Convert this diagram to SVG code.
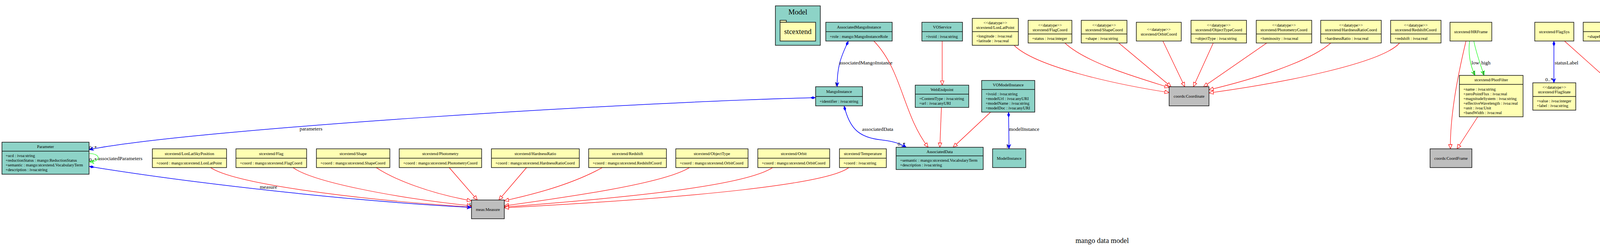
<svg xmlns="http://www.w3.org/2000/svg" width="5645" height="640" viewBox="0 0 5645 640">
<style>
text{font-family:"Liberation Serif","Times New Roman",serif;fill:#000}
.h{font-size:10.7px;text-anchor:middle}
.a{font-size:10.7px;text-anchor:start}
.l{font-size:13.3px}
.big{font-size:18.5px;text-anchor:middle}
.t{fill:#8dd3c7;stroke:#111;stroke-width:1.5}
.y{fill:#ffffb3;stroke:#111;stroke-width:1.5}
.g{fill:#bebebe;stroke:#111;stroke-width:1.5}
.d{stroke:#111;stroke-width:1.5}
.gen{fill:none;stroke:#f00;stroke-width:1.2;marker-end:url(#tri)}
.comp{fill:none;stroke:#00f;stroke-width:1.5;marker-start:url(#dia);marker-end:url(#vee)}
.grn{fill:none;stroke:#0f0;stroke-width:1.2;marker-end:url(#veeg)}
</style>
<defs>
<marker id="tri" markerWidth="14" markerHeight="12" refX="12" refY="6" orient="auto" markerUnits="userSpaceOnUse"><path d="M1,1.5 L12,6 L1,10.5 z" fill="#fff" stroke="#f00" stroke-width="1.2"/></marker>
<marker id="vee" markerWidth="14" markerHeight="12" refX="12" refY="6" orient="auto" markerUnits="userSpaceOnUse"><path d="M1,1.5 L12,6 L1,10.5 L4.5,6 z" fill="#00f" stroke="#00f" stroke-width="1"/></marker>
<marker id="veeg" markerWidth="14" markerHeight="12" refX="12" refY="6" orient="auto" markerUnits="userSpaceOnUse"><path d="M1,1.5 L12,6 L1,10.5 L4.5,6 z" fill="none" stroke="#0f0" stroke-width="1.2"/></marker>
<marker id="dia" markerWidth="16" markerHeight="10" refX="1" refY="5" orient="auto" markerUnits="userSpaceOnUse"><path d="M1,5 L8,1.5 L15,5 L8,8.5 z" fill="#00f"/></marker>
</defs>
<rect width="5645" height="640" fill="#fff"/>

<g id="connectors">
<!-- to meas:Measure -->
<path class="gen" d="M539,429 C600,470 900,510 1207,530"/>
<path class="gen" d="M750,429 C800,465 1000,505 1207,527"/>
<path class="gen" d="M963,429 C1010,460 1100,495 1207,514"/>
<path class="gen" d="M1150,429 L1222,512"/>
<path class="gen" d="M1348,429 L1277,512"/>
<path class="gen" d="M1542,429 C1450,480 1330,505 1291,514"/>
<path class="gen" d="M1765,429 C1700,470 1450,505 1291,527"/>
<path class="gen" d="M1978,429 C1900,480 1550,510 1291,530"/>
<path class="gen" d="M2173,429 C2120,470 1800,505 1291,532"/>
<!-- to coords:Coordinate -->
<path class="gen" d="M2596,116 C2650,170 2850,215 2993,237"/>
<path class="gen" d="M2726,110 C2780,160 2900,195 2993,224"/>
<path class="gen" d="M2864,110 L2998,222"/>
<path class="gen" d="M2977,105 L3033,222"/>
<path class="gen" d="M3106,110 L3055,222"/>
<path class="gen" d="M3243,110 L3081,222"/>
<path class="gen" d="M3407,110 C3350,160 3200,205 3095,230"/>
<path class="gen" d="M3583,110 C3540,160 3300,210 3095,238"/>
<!-- to coords:CoordFrame -->
<path class="gen" d="M3753,105 C3730,200 3712,300 3713,381"/>
<path class="gen" d="M3783,299 L3730,381"/>
<!-- to coords:CoordSys -->
<path class="gen" d="M4005,105 L4136,222"/>
<path class="gen" d="M4161,105 L4161,222"/>
<path class="gen" d="M4330,105 L4190,222"/>
<!-- to coords:PhysicalCoordSys -->
<path class="gen" d="M4541,105 L4709,222"/>
<path class="gen" d="M4670,105 L4729,222"/>
<path class="gen" d="M4812,105 L4753,222"/>
<path class="gen" d="M4962,105 L4780,222"/>
<!-- to AssociatedData / WebEndpoint -->
<path class="gen" d="M2237,105 C2310,180 2310,290 2376,377"/>
<path class="gen" d="M2412,105 L2412,218"/>
<path class="gen" d="M2410,275 L2406,377"/>
<path class="gen" d="M2536,287 L2440,377"/>
<!-- compositions -->
<path class="comp" d="M2088,250 C1600,262 500,330 228,383"/>
<path class="comp" d="M228,426 C500,470 900,515 1207,531"/>
<path class="comp" d="M2172,105 C2150,150 2143,175 2143,222"/>
<path class="comp" d="M2161,271 C2175,330 2200,352 2255,358 C2290,362 2305,368 2320,377"/>
<path class="comp" d="M2582,287 L2583,381"/>
<path class="comp" d="M3978,105 L3978,212"/>
<!-- green -->
<path class="grn" d="M228,393 C258,393 260,414 229,414"/>
<path class="grn" d="M3762,105 C3758,140 3765,170 3776,193"/>
<path class="grn" d="M3773,105 C3780,140 3792,170 3799,193"/>
<!-- labels -->
<text class="l" x="767" y="334">parameters</text>
<text class="l" x="228" y="382">0..*</text>
<text class="l" x="251" y="410">associatedParameters</text>
<text class="l" x="228" y="413">0..*</text>
<text class="l" x="665" y="483">measure</text>
<text class="l" x="1200" y="527">1</text>
<text class="l" x="2148" y="165">associatedMangoInstance</text>
<text class="l" x="2137" y="219">1</text>
<text class="l" x="2207" y="335">associatedData</text>
<text class="l" x="2298" y="373">0..*</text>
<text class="l" x="2583" y="335">modelInstance</text>
<text class="l" x="2575" y="378">1</text>
<text class="l" x="3767" y="165">low</text>
<text class="l" x="3792" y="165">high</text>
<text class="l" x="3770" y="190">1</text>
<text class="l" x="3794" y="190">1</text>
<text class="l" x="3980" y="165">statusLabel</text>
<text class="l" x="3956" y="208">0..*</text>
</g>

<g id="pkg-Model">
<rect class="t" x="1985" y="15" width="115" height="101"/>
<text class="big" x="2042.5" y="36.5">Model</text>
<rect class="y" x="1997" y="52" width="16" height="5"/>
<rect class="y" x="1997" y="57" width="91" height="48"/>
<text class="big" x="2042.5" y="87">stcextend</text>
</g>

<g id="Parameter">
<rect class="t" x="5" y="364" width="223" height="82"/>
<line class="d" x1="5" y1="387" x2="228" y2="387"/>
<text class="h" x="116.5" y="379">Parameter</text>
<text class="a" x="14" y="401.5">+ucd : ivoa:string</text>
<text class="a" x="14" y="413.5">+reductionStatus : mango:ReductionStatus</text>
<text class="a" x="14" y="425.5">+semantic : mango:stcextend.VocabularyTerm</text>
<text class="a" x="14" y="437.5">+description : ivoa:string</text>
</g>

<g id="LonLatSkyPosition">
<rect class="y" x="390" y="381" width="190" height="48"/>
<line class="d" x1="390" y1="405" x2="580" y2="405"/>
<text class="h" x="485" y="397">stcextend/LonLatSkyPosition</text>
<text class="a" x="400" y="421">+coord : mango:stcextend.LonLatPoint</text>
</g>
<g id="Flag">
<rect class="y" x="604" y="381" width="181" height="48"/>
<line class="d" x1="604" y1="405" x2="785" y2="405"/>
<text class="h" x="694.5" y="397">stcextend/Flag</text>
<text class="a" x="614" y="421">+coord : mango:stcextend.FlagCoord</text>
</g>
<g id="Shape">
<rect class="y" x="810" y="381" width="188" height="48"/>
<line class="d" x1="810" y1="405" x2="998" y2="405"/>
<text class="h" x="904" y="397">stcextend/Shape</text>
<text class="a" x="820" y="421">+coord : mango:stcextend.ShapeCoord</text>
</g>
<g id="Photometry">
<rect class="y" x="1022" y="381" width="211" height="48"/>
<line class="d" x1="1022" y1="405" x2="1233" y2="405"/>
<text class="h" x="1127.5" y="397">stcextend/Photometry</text>
<text class="a" x="1032" y="421">+coord : mango:stcextend.PhotometryCoord</text>
</g>
<g id="HardnessRatio">
<rect class="y" x="1258" y="381" width="225" height="48"/>
<line class="d" x1="1258" y1="405" x2="1483" y2="405"/>
<text class="h" x="1370.5" y="397">stcextend/HardnessRatio</text>
<text class="a" x="1268" y="421">+coord : mango:stcextend.HardnessRatioCoord</text>
</g>
<g id="Redshift">
<rect class="y" x="1507" y="381" width="199" height="48"/>
<line class="d" x1="1507" y1="405" x2="1706" y2="405"/>
<text class="h" x="1606.5" y="397">stcextend/Redshift</text>
<text class="a" x="1517" y="421">+coord : mango:stcextend.RedshiftCoord</text>
</g>
<g id="ObjectType">
<rect class="y" x="1730" y="381" width="185" height="48"/>
<line class="d" x1="1730" y1="405" x2="1915" y2="405"/>
<text class="h" x="1822.5" y="397">stcextend/ObjectType</text>
<text class="a" x="1740" y="421">+coord : mango:stcextend.OrbitCoord</text>
</g>
<g id="Orbit">
<rect class="y" x="1940" y="381" width="184" height="48"/>
<line class="d" x1="1940" y1="405" x2="2124" y2="405"/>
<text class="h" x="2032" y="397">stcextend/Orbit</text>
<text class="a" x="1950" y="421">+coord : mango:stcextend.OrbitCoord</text>
</g>
<g id="Temperature">
<rect class="y" x="2149" y="381" width="120" height="48"/>
<line class="d" x1="2149" y1="405" x2="2269" y2="405"/>
<text class="h" x="2209" y="397">stcextend/Temperature</text>
<text class="a" x="2159" y="421">+coord : ivoa:string</text>
</g>

<g id="Measure">
<rect class="g" x="1207" y="512" width="84" height="48"/>
<text class="h" x="1249" y="539.5">meas:Measure</text>
</g>

<g id="AssociatedMangoInstance">
<rect class="t" x="2114" y="57" width="170" height="48"/>
<line class="d" x1="2114" y1="81" x2="2284" y2="81"/>
<text class="h" x="2199" y="72.7">AssociatedMangoInstance</text>
<text class="a" x="2124" y="96.7">+role : mango:MangoInstanceRole</text>
</g>
<g id="VOService">
<rect class="t" x="2360" y="57" width="104" height="48"/>
<line class="d" x1="2360" y1="81" x2="2464" y2="81"/>
<text class="h" x="2412" y="72.7">VOService</text>
<text class="a" x="2370" y="96.7">+ivoid : ivoa:string</text>
</g>
<g id="MangoInstance">
<rect class="t" x="2088" y="222" width="120" height="49"/>
<line class="d" x1="2088" y1="247" x2="2208" y2="247"/>
<text class="h" x="2148" y="238">MangoInstance</text>
<text class="a" x="2098" y="262.5">+identifier : ivoa:string</text>
</g>
<g id="WebEndpoint">
<rect class="t" x="2343" y="218" width="137" height="57"/>
<line class="d" x1="2343" y1="241" x2="2480" y2="241"/>
<text class="h" x="2411.5" y="233">WebEndpoint</text>
<text class="a" x="2353" y="255.5">+ContentType : ivoa:string</text>
<text class="a" x="2353" y="267.5">+url : ivoa:anyURI</text>
</g>
<g id="VOModelInstance">
<rect class="t" x="2513" y="206" width="136" height="81"/>
<line class="d" x1="2513" y1="229" x2="2649" y2="229"/>
<text class="h" x="2581" y="221">VOModelInstance</text>
<text class="a" x="2523" y="243.5">+ivoid : ivoa:string</text>
<text class="a" x="2523" y="255.5">+modelUrl : ivoa:anyURI</text>
<text class="a" x="2523" y="267.5">+modelName : ivoa:string</text>
<text class="a" x="2523" y="279.5">+modelDoc : ivoa:anyURI</text>
</g>
<g id="AssociatedData">
<rect class="t" x="2294" y="377" width="223" height="57"/>
<line class="d" x1="2294" y1="399" x2="2517" y2="399"/>
<text class="h" x="2405.5" y="392">AssociatedData</text>
<text class="a" x="2304" y="413.5">+semantic : mango:stcextend.VocabularyTerm</text>
<text class="a" x="2304" y="425.5">+description : ivoa:string</text>
</g>
<g id="ModelInstance">
<rect class="t" x="2541" y="381" width="85" height="48"/>
<text class="h" x="2583.5" y="409">ModelInstance</text>
</g>

<g id="LonLatPoint">
<rect class="y" x="2489" y="47" width="118" height="69"/>
<line class="d" x1="2489" y1="81" x2="2607" y2="81"/>
<text class="h" x="2548" y="61.5">&lt;&lt;datatype&gt;&gt;</text>
<text class="h" x="2548" y="73.5">stcextend/LonLatPoint</text>
<text class="a" x="2499" y="95.5">+longitude : ivoa:real</text>
<text class="a" x="2499" y="107.5">+latitude : ivoa:real</text>
</g>
<g id="FlagCoord">
<rect class="y" x="2632" y="52" width="112" height="58"/>
<line class="d" x1="2632" y1="87" x2="2744" y2="87"/>
<text class="h" x="2688" y="67.5">&lt;&lt;datatype&gt;&gt;</text>
<text class="h" x="2688" y="79.5">stcextend/FlagCoord</text>
<text class="a" x="2642" y="101.5">+status : ivoa:integer</text>
</g>
<g id="ShapeCoord">
<rect class="y" x="2768" y="52" width="117" height="58"/>
<line class="d" x1="2768" y1="87" x2="2885" y2="87"/>
<text class="h" x="2826.5" y="67.5">&lt;&lt;datatype&gt;&gt;</text>
<text class="h" x="2826.5" y="79.5">stcextend/ShapeCoord</text>
<text class="a" x="2778" y="101.5">+shape : ivoa:string</text>
</g>
<g id="OrbitCoord">
<rect class="y" x="2909" y="57" width="115" height="48"/>
<text class="h" x="2966.5" y="78.5">&lt;&lt;datatype&gt;&gt;</text>
<text class="h" x="2966.5" y="90.5">stcextend/OrbitCoord</text>
</g>
<g id="ObjectTypeCoord">
<rect class="y" x="3049" y="52" width="142" height="58"/>
<line class="d" x1="3049" y1="87" x2="3191" y2="87"/>
<text class="h" x="3120" y="67.5">&lt;&lt;datatype&gt;&gt;</text>
<text class="h" x="3120" y="79.5">stcextend/ObjectTypeCoord</text>
<text class="a" x="3059" y="101.5">+objectType : ivoa:string</text>
</g>
<g id="PhotometryCoord">
<rect class="y" x="3216" y="52" width="142" height="58"/>
<line class="d" x1="3216" y1="87" x2="3358" y2="87"/>
<text class="h" x="3287" y="67.5">&lt;&lt;datatype&gt;&gt;</text>
<text class="h" x="3287" y="79.5">stcextend/PhotometryCoord</text>
<text class="a" x="3226" y="101.5">+luminosity : ivoa:real</text>
</g>
<g id="HardnessRatioCoord">
<rect class="y" x="3381" y="52" width="155" height="58"/>
<line class="d" x1="3381" y1="87" x2="3536" y2="87"/>
<text class="h" x="3458.5" y="67.5">&lt;&lt;datatype&gt;&gt;</text>
<text class="h" x="3458.5" y="79.5">stcextend/HardnessRatioCoord</text>
<text class="a" x="3391" y="101.5">+hardnessRatio : ivoa:real</text>
</g>
<g id="RedshiftCoord">
<rect class="y" x="3560" y="52" width="129" height="58"/>
<line class="d" x1="3560" y1="87" x2="3689" y2="87"/>
<text class="h" x="3624.5" y="67.5">&lt;&lt;datatype&gt;&gt;</text>
<text class="h" x="3624.5" y="79.5">stcextend/RedshiftCoord</text>
<text class="a" x="3570" y="101.5">+redshift : ivoa:real</text>
</g>
<g id="Coordinate">
<rect class="g" x="2993" y="222" width="102" height="49"/>
<text class="h" x="3044" y="250">coords:Coordinate</text>
</g>

<g id="HRFrame">
<rect class="y" x="3712" y="57" width="107" height="48"/>
<text class="h" x="3765.5" y="84.7">stcextend/HRFrame</text>
</g>
<g id="PhotFilter">
<rect class="y" x="3736" y="193" width="163" height="106"/>
<line class="d" x1="3736" y1="216" x2="3899" y2="216"/>
<text class="h" x="3817.5" y="208">stcextend/PhotFilter</text>
<text class="a" x="3746" y="231.5">+name : ivoa:string</text>
<text class="a" x="3746" y="243.5">+zeroPointFlux : ivoa:real</text>
<text class="a" x="3746" y="255.5">+magnitudeSystem : ivoa:string</text>
<text class="a" x="3746" y="267.5">+effectiveWavelength : ivoa:real</text>
<text class="a" x="3746" y="279.5">+unit : ivoa:Unit</text>
<text class="a" x="3746" y="291.5">+bandWidth : ivoa:real</text>
</g>
<g id="CoordFrame">
<rect class="g" x="3661" y="381" width="107" height="48"/>
<text class="h" x="3714.5" y="408.7">coords:CoordFrame</text>
</g>

<g id="FlagSys">
<rect class="y" x="3929" y="57" width="100" height="48"/>
<text class="h" x="3979" y="84.7">stcextend/FlagSys</text>
</g>
<g id="FlagState">
<rect class="y" x="3924" y="212" width="110" height="70"/>
<line class="d" x1="3924" y1="247" x2="4034" y2="247"/>
<text class="h" x="3979" y="226.5">&lt;&lt;datatype&gt;&gt;</text>
<text class="h" x="3979" y="238.5">stcextend/FlagState</text>
<text class="a" x="3934" y="261.5">+value : ivoa:integer</text>
<text class="a" x="3934" y="273.5">+label : ivoa:string</text>
</g>
<g id="ShapeSys">
<rect class="y" x="4053" y="57" width="216" height="48"/>
<line class="d" x1="4053" y1="81" x2="4269" y2="81"/>
<text class="h" x="4161" y="72.7">stcextend/ShapeSys</text>
<text class="a" x="4063" y="96.7">+shapeFrame : mango:stcextend.ShapeFrame</text>
</g>
<g id="ObjectTypeSys">
<rect class="y" x="4293" y="57" width="131" height="48"/>
<text class="h" x="4358.5" y="84.7">stcextend/ObjectTypeSys</text>
</g>
<g id="CoordSys">
<rect class="g" x="4114" y="222" width="95" height="49"/>
<text class="h" x="4161.5" y="250">coords:CoordSys</text>
</g>
<g id="RedshiftSys">
<rect class="y" x="4448" y="57" width="117" height="48"/>
<text class="h" x="4506.5" y="84.7">stcextend/RedshiftSys</text>
</g>
<g id="LonLatCoordSys">
<rect class="y" x="4589" y="57" width="139" height="48"/>
<text class="h" x="4658.5" y="84.7">stcextend/LonLatCoordSys</text>
</g>
<g id="HardnessRatioSys">
<rect class="y" x="4752" y="57" width="144" height="48"/>
<text class="h" x="4824" y="84.7">stcextend/HardnessRatioSys</text>
</g>
<g id="PhotometryCoordSys">
<rect class="y" x="4920" y="57" width="157" height="48"/>
<text class="h" x="4998.5" y="84.7">stcextend/PhotometryCoordSys</text>
</g>
<g id="PhysicalCoordSys">
<rect class="g" x="4676" y="222" width="132" height="49"/>
<text class="h" x="4742" y="250">coords:PhysicalCoordSys</text>
</g>

<g id="MangoInstanceRole">
<rect class="t" x="5102" y="41" width="108" height="81"/>
<line class="d" x1="5102" y1="75" x2="5210" y2="75"/>
<text class="h" x="5156" y="55.5">&lt;&lt;enumeration&gt;&gt;</text>
<text class="h" x="5156" y="67.5">MangoInstanceRole</text>
<text class="a" x="5112" y="89.5">+Detection</text>
<text class="a" x="5112" y="101.5">+Companion</text>
<text class="a" x="5112" y="113.5">+Counterpart</text>
</g>
<g id="ReductionStatus">
<rect class="t" x="5234" y="35" width="100" height="93"/>
<line class="d" x1="5234" y1="69" x2="5334" y2="69"/>
<text class="h" x="5284" y="49.5">&lt;&lt;enumeration&gt;&gt;</text>
<text class="h" x="5284" y="61.5">ReductionStatus</text>
<text class="a" x="5244" y="83.5">+Raw</text>
<text class="a" x="5244" y="95.5">+Calibrated</text>
<text class="a" x="5244" y="107.5">+Corrected</text>
<text class="a" x="5244" y="119.5">+Computed</text>
</g>
<g id="ShapeFrame">
<rect class="y" x="5358" y="47" width="119" height="69"/>
<line class="d" x1="5358" y1="81" x2="5477" y2="81"/>
<text class="h" x="5417.5" y="61.5">&lt;&lt;enumeration&gt;&gt;</text>
<text class="h" x="5417.5" y="73.5">stcextend/ShapeFrame</text>
<text class="a" x="5368" y="95.5">+MOC</text>
<text class="a" x="5368" y="107.5">+STCs</text>
</g>
<g id="VocabularyTerm">
<rect class="y" x="5502" y="47" width="138" height="69"/>
<line class="d" x1="5502" y1="81" x2="5640" y2="81"/>
<text class="h" x="5571" y="61.5">&lt;&lt;datatype&gt;&gt;</text>
<text class="h" x="5571" y="73.5">stcextend/VocabularyTerm</text>
<text class="a" x="5512" y="95.5">+uri : ivoa:string</text>
<text class="a" x="5512" y="107.5">+label : ivoa:string</text>
</g>

<text class="big" x="2821.5" y="622">mango data model</text>
</svg>
